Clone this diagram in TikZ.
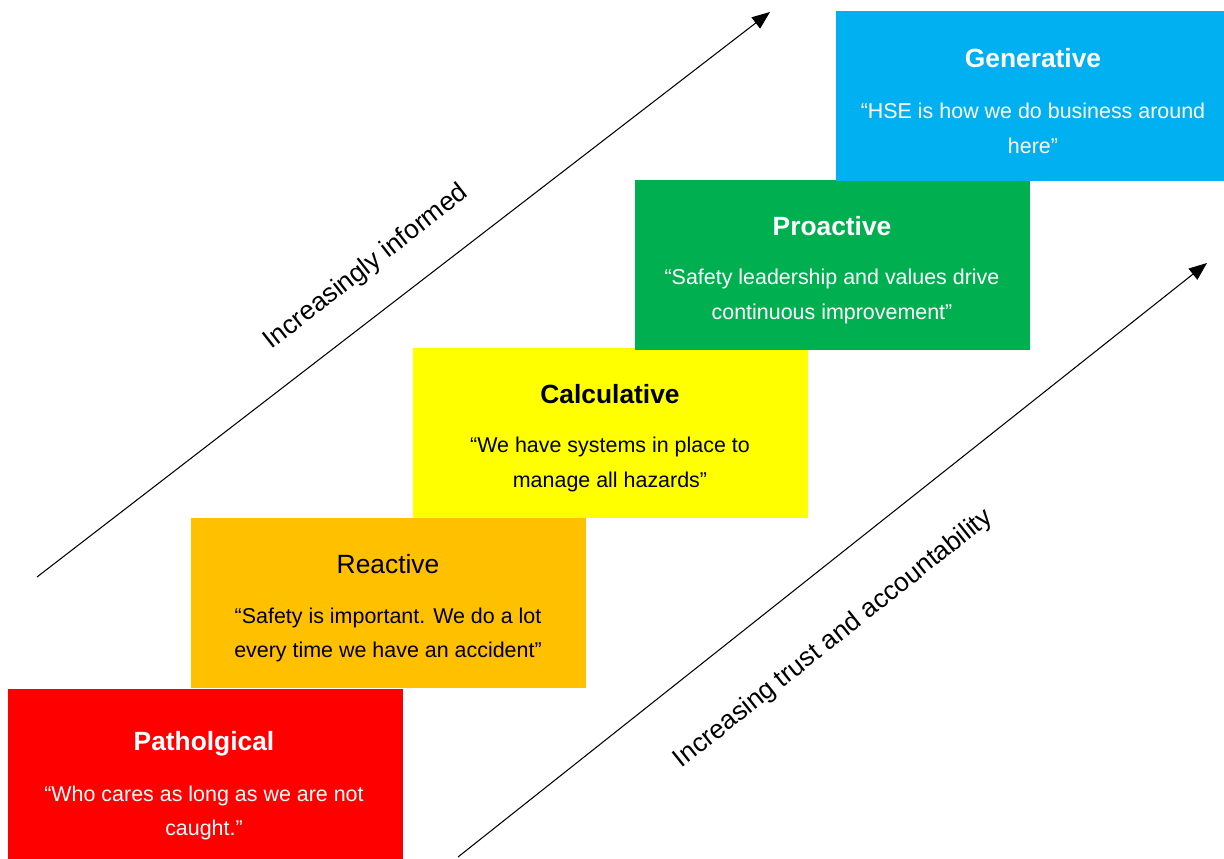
\documentclass[tikz,border=0pt]{standalone}
\usepackage{fontspec}
\setmainfont{Liberation Sans}
\usepackage{xcolor}
\usetikzlibrary{arrows.meta}

\definecolor{rojo}{HTML}{FF0000}
\definecolor{naranja}{HTML}{FFC000}
\definecolor{amarillo}{HTML}{FFFF00}
\definecolor{verde}{HTML}{00B050}
\definecolor{celeste}{HTML}{00B0F0}

\begin{document}
\begin{tikzpicture}[
			 nivel/.style={rectangle, inner sep=0pt, minimum width=7.9cm, minimum height=3.4cm},
			 titulo/.style={font=\fontsize{15}{17}\selectfont},
			 cita/.style={align=center, font=\fontsize{12.2}{19.8}\selectfont},
			 flecha/.style={-{Triangle[length=3.6mm, width=2.8mm]}, line width=0.6pt},
			 etiqueta/.style={font=\fontsize{15}{17}\selectfont, rotate=38}
  		]
	\useasboundingbox (0,0) rectangle (24.48,17.18);

	%Creamos los niveles
		\node[nivel, fill=rojo] (n1) at (4.10,1.70) {};
		\node[nivel, fill=naranja](n2) at (7.77,5.12){};
		\node[nivel, fill=amarillo](n3) at (12.20,8.52){};
		\node[nivel, fill=verde](n4) at (16.65,11.88){};
		\node[nivel, fill=celeste, minimum width=7.76cm](n5) at (20.60,15.26){};
	%Titulos
		\node[titulo, text=white] (t1) at (4.08,2.30) {\bfseries Patholgical};
		\node[titulo] (t2) at (7.76,5.90) {Reactive};
		\node[titulo] (t3) at (12.20,9.30) {\bfseries Calculative};
		\node[titulo, text=white] (t4) at (16.64,12.66) {\bfseries Proactive};
		\node[titulo, text=white] (t5) at (20.66,16.02) {\bfseries Generative};
	%Citas
		\node[cita, text=white] (c1) at (4.08,0.92) {“Who cares as long as we are not\\caught.”};
		\node[cita] (c2) at (7.76,4.48) {“Safety is important. We do a lot\\every time we have an accident”};
		\node[cita] (c3) at (12.20,7.89) {“We have systems in place to\\manage all hazards”};
		\node[cita, text=white] (c4) at (16.64,11.25) {“Safety leadership and values drive\\continuous improvement”};
		\node[cita, text=white] (c5) at (20.66,14.62) {“HSE is how we do business around\\here”};
	%Flechas
		\coordinate (a1) at (0.74,5.64);
		\coordinate (b1) at (15.40,16.94);
		\coordinate (a2) at (9.16,0.04);
		\coordinate (b2) at (24.14,11.92);
		\draw[flecha] (a1) -- (b1);
		\draw[flecha] (a2) -- (b2);
	%Etiquetas de las flechas
		\node[etiqueta] (e1) at (7.33,11.83) {Increasingly informed};
		\node[etiqueta, rotate=0.5] (e2) at (16.67,4.40) {Increasing trust and accountability};
	\end{tikzpicture}
\end{document}
